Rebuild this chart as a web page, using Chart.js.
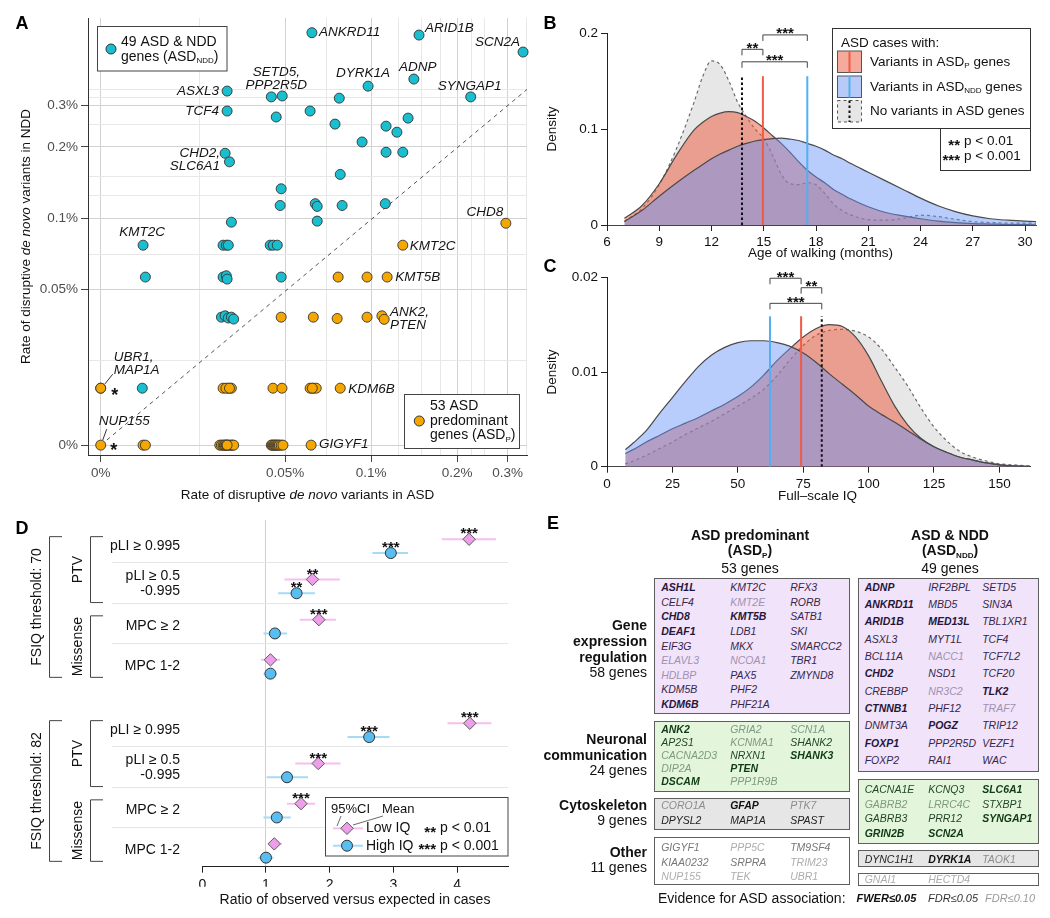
<!DOCTYPE html>
<html>
<head>
<meta charset="utf-8">
<title>ASD gene figure</title>
<script src="https://cdn.jsdelivr.net/npm/chart.js@4.4.1/dist/chart.umd.min.js"></script>
<style>
  html, body { margin: 0; padding: 0; background: #fff; }
  #page { position: relative; width: 1050px; height: 918px; overflow: hidden; font-family: "Liberation Sans", Arial, sans-serif; color: #111; }
  #page canvas { position: absolute; left: 0; top: 0; }
  .t { position: absolute; white-space: nowrap; }
  .gbox { position: absolute; box-sizing: border-box; border: 1.8px solid #5e5e5e; }
  .gene { position: absolute; white-space: nowrap; font-style: italic; font-size: 10.5px; }
  .sb { font-size: 8px; position: relative; top: 3px; }
</style>
</head>
<body>
<div id="page">
  <canvas id="chartA" width="1050" height="918"></canvas>
  <canvas id="chartB" width="1050" height="918"></canvas>
  <canvas id="chartC" width="1050" height="918"></canvas>
  <canvas id="chartD" width="1050" height="918"></canvas>
</div>
<script>
const FAM = '"Liberation Sans", Arial, Helvetica, sans-serif';
const f = (size, style) => (style ? style + ' ' : '') + size + 'px ' + FAM;
Chart.defaults.font.family = FAM;
Chart.defaults.color = '#111';

// ---- A: rate of disruptive de novo variants (%) per gene, ASD (x) vs NDD (y)
const nddGene = ['ANKRD11', 'ARID1B', 'SCN2A', 'ADNP', 'DYRK1A', 'ASXL3', 'SETD5', 'PPP2R5D', '', 'SYNGAP1',
  '', 'TCF4', '', '', '', '', '', '', 'CHD2', 'SLC6A1',
  '', '', '', '', '', '', '', '', '', '', '', 'KMT2C',
  '', '', '', '', '', '', '', '', '', '', '', '', '', '', '', '', ''];
const nddAsd = [0.062, 0.147, 0.34, 0.141, 0.0975, 0.0313, 0.0447, 0.0488, 0.0773, 0.223,
  0.0611, 0.0313, 0.0465, 0.1346, 0.0747, 0.1127, 0.123, 0.0929, 0.0308, 0.0319,
  0.1127, 0.129, 0.0779, 0.0484, 0.0324, 0.048, 0.0637, 0.0647, 0.0791, 0.112, 0.0647, 0.0159,
  0.0303, 0.0311, 0.0316, 0.0443, 0.0454, 0.0469, 0.0162, 0.0303, 0.0311, 0.0313, 0.0484,
  0.0299, 0.0308, 0.0316, 0.0324, 0.033, 0.0158];
const nddNdd = [0.61, 0.596, 0.505, 0.388, 0.362, 0.345, 0.326, 0.329, 0.322, 0.326,
  0.284, 0.284, 0.268, 0.265, 0.25, 0.245, 0.231, 0.21, 0.188, 0.173,
  0.19, 0.19, 0.153, 0.133, 0.096, 0.113, 0.115, 0.112, 0.113, 0.115, 0.097, 0.0767,
  0.0767, 0.0767, 0.0767, 0.0767, 0.0767, 0.0767, 0.0562, 0.0562, 0.0569, 0.0551, 0.0562,
  0.038, 0.0385, 0.0377, 0.038, 0.0373, 0.019];
const pGene = ['CHD8', 'KMT2C', '', '', 'KMT5B', '', '', '', '', 'ANK2', 'PTEN', 'UBR1', 'MAP1A',
  '', '', '', '', '', '', '', '', '', '', 'KDM6B', 'NUP155', '', '',
  '', '', '', '', '', '', '', '', '', '', '', '',
  '', '', '', '', '', '', '', '', '', '', '', 'GIGYF1', '', ''];
const pAsd = [0.296, 0.129, 0.0766, 0.0967, 0.1137, 0.0484, 0.0627, 0.076, 0.0967, 0.109, 0.111, 0, 0,
  0.0303, 0.0316, 0.0324, 0.031, 0.0319, 0.0453, 0.0487, 0.0611, 0.0627, 0.0642, 0.0779, 0, 0.0159, 0.0162,
  0.0295, 0.0299, 0.0303, 0.0306, 0.0308, 0.0311, 0.0313, 0.0316, 0.032, 0.0324, 0.0327, 0.033,
  0.0447, 0.045, 0.0454, 0.0458, 0.0461, 0.0465, 0.0469, 0.0473, 0.0477, 0.0484, 0.0491, 0.0616, 0.0622, 0.0313];
const pNdd = [0.095, 0.0767, 0.0562, 0.0562, 0.0562, 0.038, 0.038, 0.0375, 0.038, 0.0385, 0.0372, 0.019, 0.019,
  0.019, 0.019, 0.019, 0.019, 0.019, 0.019, 0.019, 0.019, 0.019, 0.019, 0.019, 0, 0, 0,
  0, 0, 0, 0, 0, 0, 0, 0, 0, 0, 0, 0,
  0, 0, 0, 0, 0, 0, 0, 0, 0, 0, 0, 0, 0.019, 0];
const rateTicks = [0, 0.05, 0.1, 0.2, 0.3];
const rateLabels = ['0%', '0.05%', '0.1%', '0.2%', '0.3%'];
const rateMinorX = [0.025, 0.07, 0.125, 0.15, 0.175, 0.225, 0.25, 0.35];
const rateMinorY = [0.025, 0.07, 0.125, 0.15, 0.25, 0.325, 0.35];

// ---- B: age of walking densities
const walkAge = [7, 8, 9, 10, 11, 11.5, 12, 12.5, 13, 13.5, 14, 14.5, 15, 15.5, 16, 16.5, 17, 17.5,
  18, 18.5, 19, 19.5, 20, 21, 22, 23, 24, 25, 26, 27, 28, 29, 30, 31];
const walkNone = [0.004, 0.017, 0.042, 0.080, 0.128, 0.155, 0.171, 0.167, 0.150, 0.128, 0.113, 0.100, 0.090, 0.073,
  0.053, 0.043, 0.042, 0.044, 0.042, 0.033, 0.022, 0.015, 0.0105, 0.0055, 0.005, 0.0068, 0.0102, 0.0088,
  0.006, 0.0035, 0.0025, 0.002, 0.002, 0.002];
const walkP = [0.007, 0.02, 0.043, 0.073, 0.099, 0.107, 0.113, 0.1165, 0.118, 0.117, 0.113, 0.108, 0.101, 0.093,
  0.085, 0.076, 0.066, 0.057, 0.050, 0.044, 0.037, 0.032, 0.027, 0.019, 0.013, 0.0095, 0.0065, 0.004,
  0.0025, 0.0015, 0.001, 0.0005, 0.0003, 0.0002];
const walkNdd = [0.0035, 0.015, 0.03, 0.044, 0.057, 0.063, 0.069, 0.074, 0.078, 0.082, 0.085, 0.0875, 0.089, 0.09,
  0.0905, 0.0895, 0.088, 0.085, 0.082, 0.078, 0.073, 0.069, 0.064, 0.055, 0.046, 0.037, 0.028, 0.02,
  0.014, 0.0095, 0.0065, 0.005, 0.004, 0.0035];
const walkMeanP = 14.95, walkMeanNdd = 17.5, walkMeanNone = 13.75;
const walkTicks = [6, 9, 12, 15, 18, 21, 24, 27, 30];
const walkSig = [['**', walkMeanNone, walkMeanP], ['***', walkMeanP, walkMeanNdd], ['***', walkMeanNone, walkMeanNdd]];

// ---- C: full-scale IQ densities
const iq = [7, 10, 15, 20, 25, 30, 35, 40, 45, 50, 55, 60, 65, 70, 75, 80, 85, 90, 95, 100,
  105, 110, 115, 120, 125, 130, 135, 140, 145, 150, 155, 160, 165];
const iqNdd = [0.0018, 0.0025, 0.0038, 0.0056, 0.0073, 0.009, 0.0106, 0.0118, 0.0126, 0.0131, 0.0133, 0.0133,
  0.0131, 0.0127, 0.012, 0.011, 0.0098, 0.0087, 0.0076, 0.0064, 0.0055, 0.0047, 0.0038, 0.0029, 0.0021,
  0.0015, 0.001, 0.0007, 0.0004, 0.0002, 0.0001, 0.00005, 0];
const iqP = [0.0014, 0.0018, 0.0026, 0.0033, 0.004, 0.0046, 0.0052, 0.0059, 0.0066, 0.0074, 0.0084, 0.0097,
  0.0112, 0.0125, 0.0137, 0.0146, 0.015, 0.0148, 0.0137, 0.0117, 0.009, 0.0064, 0.0044, 0.003, 0.0021,
  0.0015, 0.001, 0.0007, 0.0004, 0.0002, 0.0001, 0.00005, 0];
const iqNone = [0.0003, 0.0006, 0.0012, 0.0019, 0.0026, 0.0034, 0.0041, 0.0048, 0.0056, 0.0064, 0.0072, 0.0082,
  0.0096, 0.0113, 0.0128, 0.0139, 0.0144, 0.0145, 0.0143, 0.0137, 0.0124, 0.0105, 0.0085, 0.0062, 0.0042,
  0.0027, 0.0016, 0.001, 0.0006, 0.0003, 0.0002, 0.0001, 0];
const iqMeanP = 74.2, iqMeanNdd = 62.3, iqMeanNone = 82.1;
const iqTicks = [0, 25, 50, 75, 100, 125, 150];
const iqSig = [['***', iqMeanNdd, iqMeanP], ['**', iqMeanP, iqMeanNone], ['***', iqMeanNdd, iqMeanNone]];

// ---- D: observed / expected ratio, per FSIQ threshold (70, 82)
const dThresholds = [70, 82];
const dRowLabels = ['pLI \u2265 0.995', 'pLI \u2265 0.5\n-0.995', 'MPC \u2265 2', 'MPC 1-2'];
const lowIQ = [[4.19, 1.73, 1.83, 1.07], [4.20, 1.82, 1.55, 1.13]];
const lowLo = [[3.76, 1.29, 1.53, 0.92], [3.85, 1.46, 1.33, 1.04]];
const lowHi = [[4.61, 2.16, 2.10, 1.22], [4.54, 2.17, 1.77, 1.25]];
const highIQ = [[2.96, 1.48, 1.14, 1.07], [2.62, 1.33, 1.17, 1.00]];
const highLo = [[2.67, 1.19, 0.96, 0.96], [2.28, 1.01, 0.96, 0.88]];
const highHi = [[3.23, 1.77, 1.33, 1.17], [2.94, 1.66, 1.39, 1.12]];
const lowStars = [['***', '**', '***', ''], ['***', '***', '***', '']];
const highStars = [['***', '**', '', ''], ['***', '', '', '']];
const ratioTicks = [0, 1, 2, 3, 4];

// ---- E: genes per category (columns as printed)
const geneExprP = [['ASH1L', 'CELF4', 'CHD8', 'DEAF1', 'EIF3G', 'ELAVL3', 'HDLBP', 'KDM5B', 'KDM6B'],
  ['KMT2C', 'KMT2E', 'KMT5B', 'LDB1', 'MKX', 'NCOA1', 'PAX5', 'PHF2', 'PHF21A'],
  ['RFX3', 'RORB', 'SATB1', 'SKI', 'SMARCC2', 'TBR1', 'ZMYND8']];
const neuroP = [['ANK2', 'AP2S1', 'CACNA2D3', 'DIP2A', 'DSCAM'], ['GRIA2', 'KCNMA1', 'NRXN1', 'PTEN', 'PPP1R9B'],
  ['SCN1A', 'SHANK2', 'SHANK3']];
const cytoP = [['CORO1A', 'DPYSL2'], ['GFAP', 'MAP1A'], ['PTK7', 'SPAST']];
const otherP = [['GIGYF1', 'KIAA0232', 'NUP155'], ['PPP5C', 'SRPRA', 'TEK'], ['TM9SF4', 'TRIM23', 'UBR1']];
const geneExprNdd = [['ADNP', 'ANKRD11', 'ARID1B', 'ASXL3', 'BCL11A', 'CHD2', 'CREBBP', 'CTNNB1', 'DNMT3A', 'FOXP1', 'FOXP2'],
  ['IRF2BPL', 'MBD5', 'MED13L', 'MYT1L', 'NACC1', 'NSD1', 'NR3C2', 'PHF12', 'POGZ', 'PPP2R5D', 'RAI1'],
  ['SETD5', 'SIN3A', 'TBL1XR1', 'TCF4', 'TCF7L2', 'TCF20', 'TLK2', 'TRAF7', 'TRIP12', 'VEZF1', 'WAC']];
const neuroNdd = [['CACNA1E', 'GABRB2', 'GABRB3', 'GRIN2B'], ['KCNQ3', 'LRRC4C', 'PRR12', 'SCN2A'], ['SLC6A1', 'STXBP1', 'SYNGAP1']];
const cytoNdd = [['DYNC1H1'], ['DYRK1A'], ['TAOK1']];
const otherNdd = [['GNAI1'], ['HECTD4']];
const fwerGenes = ['ASH1L', 'CHD8', 'DEAF1', 'KDM6B', 'KMT5B', 'ANK2', 'DSCAM', 'PTEN', 'SHANK3', 'GFAP',
  'ADNP', 'ANKRD11', 'ARID1B', 'CHD2', 'CTNNB1', 'FOXP1', 'MED13L', 'POGZ', 'TLK2',
  'GRIN2B', 'SCN2A', 'SLC6A1', 'SYNGAP1', 'DYRK1A'];
const fdr10Genes = ['ELAVL3', 'HDLBP', 'KMT2E', 'NCOA1', 'CACNA2D3', 'DIP2A', 'GRIA2', 'KCNMA1', 'PPP1R9B', 'SCN1A',
  'CORO1A', 'PTK7', 'NUP155', 'PPP5C', 'TEK', 'TRIM23', 'UBR1', 'NACC1', 'NR3C2', 'TRAF7',
  'GABRB2', 'LRRC4C', 'TAOK1', 'GNAI1', 'HECTD4'];

// ---------------- drawing helpers
function drawRuns(ctx, parts, x, y, align) {
  let w = 0;
  parts.forEach(p => { ctx.font = p[1]; w += ctx.measureText(p[0]).width; });
  let cx = align === 'center' ? x - w / 2 : align === 'right' ? x - w : x;
  ctx.textAlign = 'left';
  parts.forEach(p => { ctx.font = p[1]; ctx.fillText(p[0], cx, y + (p[2] || 0)); cx += ctx.measureText(p[0]).width; });
}
function drawStars(ctx, s, x, yc, align, size) {
  ctx.save();
  ctx.font = f(size || 15, 'bold'); ctx.textAlign = align || 'center'; ctx.textBaseline = 'alphabetic';
  ctx.fillStyle = '#111';
  ctx.fillText(s, x, yc + (size || 15) * 0.57);
  ctx.restore();
}
function seg(ctx, x1, y1, x2, y2) { ctx.beginPath(); ctx.moveTo(x1, y1); ctx.lineTo(x2, y2); ctx.stroke(); }
function dot(ctx, x, y, r, fill, stroke) {
  ctx.beginPath(); ctx.arc(x, y, r, 0, Math.PI * 2); ctx.fillStyle = fill; ctx.fill();
  ctx.lineWidth = 1; ctx.strokeStyle = stroke; ctx.stroke();
}
function diamond(ctx, x, y, r, fill, stroke) {
  ctx.beginPath(); ctx.moveTo(x, y - r); ctx.lineTo(x + r, y); ctx.lineTo(x, y + r); ctx.lineTo(x - r, y); ctx.closePath();
  ctx.fillStyle = fill; ctx.fill(); ctx.lineWidth = 1; ctx.strokeStyle = stroke; ctx.stroke();
}
function letter(ctx, s, x, y) {
  ctx.save(); ctx.font = f(18, 'bold'); ctx.fillStyle = '#000'; ctx.textAlign = 'center'; ctx.textBaseline = 'middle';
  ctx.fillText(s, x, y); ctx.restore();
}
function rotRuns(ctx, parts, x, y) {
  ctx.save(); ctx.translate(x, y); ctx.rotate(-Math.PI / 2); drawRuns(ctx, parts, 0, 0, 'center'); ctx.restore();
}
const common = { responsive: false, animation: false, events: [], plugins: { legend: { display: false }, tooltip: { enabled: false } } };

// ---------------- Panel A
const CYAN = '#19BECF', ORANGE = '#F5A700';
const zeroX = 0.0113, zeroY = 0.0109;
const toPt = (x, y) => ({ x: x > 0 ? x : zeroX, y: y > 0 ? y : zeroY });
const nddPts = nddAsd.map((v, i) => toPt(v, nddNdd[i]));
const pPts = pAsd.map((v, i) => toPt(v, pNdd[i]));

function rateAxis(zero, minor, min, max, isX) {
  const major = rateTicks.map(v => (v > 0 ? v : zero));
  const all = major.concat(minor).sort((a, b) => a - b);
  const isMajor = c => c.tick && major.includes(c.tick.value);
  return {
    type: 'logarithmic', min, max,
    afterBuildTicks: s => { s.ticks = all.map(v => ({ value: v })); },
    afterFit: s => { if (isX) s.height = 30; else s.width = 88; },
    ticks: { autoSkip: false, maxRotation: 0, padding: 3, color: '#4d4d4d', font: { size: 13.5 },
      callback: v => { const i = major.indexOf(v); return i < 0 ? '' : rateLabels[i]; } },
    grid: { color: c => (isMajor(c) ? '#d2d2d2' : '#e8e8e8'), tickColor: c => (isMajor(c) ? '#444' : 'rgba(0,0,0,0)'), tickLength: 7 },
    border: { display: true, color: '#333', width: 1 }
  };
}

const nddLabelPos = {
  ANKRD11: { dx: 7, dy: 0, align: 'left' },
  ARID1B: { dx: 6, dy: -7, align: 'left' },
  SCN2A: { dx: -3, dy: -10, align: 'right' },
  ADNP: { dx: 4, dy: -12, align: 'center' },
  DYRK1A: { dx: -5, dy: -13, align: 'center' },
  SYNGAP1: { dx: -1, dy: -11, align: 'center' },
  SETD5: { dx: 5, dy: -25, align: 'center', lines: ['SETD5,', 'PPP2R5D'] },
  ASXL3: { dx: -8, dy: 0, align: 'right' },
  TCF4: { dx: -8, dy: 0, align: 'right' },
  CHD2: { dx: -5, dy: 0, align: 'right', lines: ['CHD2,', 'SLC6A1'] },
  KMT2C: { dx: -1, dy: -13, align: 'center' }
};
const pLabelPos = {
  CHD8: { dx: -21, dy: -11, align: 'center' },
  KMT2C: { dx: 7, dy: 1.5, align: 'left' },
  KMT5B: { dx: 8, dy: 0, align: 'left' },
  ANK2: { dx: 8, dy: -4, align: 'left', lines: ['ANK2,', 'PTEN'] },
  KDM6B: { dx: 8, dy: 1, align: 'left' },
  GIGYF1: { dx: 8, dy: -1, align: 'left' },
  UBR1: { dx: 13, dy: -31, align: 'left', lines: ['UBR1,', 'MAP1A'], lead: [4, -4, 12, -14], star: [14, 3] },
  NUP155: { dx: -2, dy: -24, align: 'left', lead: [2, -5, 6, -16], star: [13, 1] }
};

const decorA = {
  id: 'decorA',
  afterDraw(chart) {
    const { ctx, scales: { x, y } } = chart;
    ctx.save();
    ctx.textBaseline = 'middle';
    const place = (genes, pts, pos) => genes.forEach((g, i) => {
      const p = pos[g];
      if (!p) return;
      const px = x.getPixelForValue(pts[i].x), py = y.getPixelForValue(pts[i].y);
      ctx.fillStyle = '#151515'; ctx.font = f(13.5, 'italic'); ctx.textAlign = p.align;
      (p.lines || [g]).forEach((ln, li) => ctx.fillText(ln, px + p.dx, py + p.dy + li * 13));
      if (p.lead) { ctx.strokeStyle = '#333'; ctx.lineWidth = 1; seg(ctx, px + p.lead[0], py + p.lead[1], px + p.lead[2], py + p.lead[3]); }
      if (p.star) drawStars(ctx, '*', px + p.star[0], py + p.star[1], 'center', 18);
    });
    place(nddGene, nddPts, nddLabelPos);
    place(pGene, pPts, pLabelPos);

    // legends
    ctx.fillStyle = '#fff'; ctx.strokeStyle = '#444'; ctx.lineWidth = 1;
    ctx.fillRect(97.5, 26.5, 129.5, 44.5); ctx.strokeRect(97.5, 26.5, 129.5, 44.5);
    ctx.fillRect(404.5, 394.5, 115, 54); ctx.strokeRect(404.5, 394.5, 115, 54);
    dot(ctx, 111, 49, 5, CYAN, '#333');
    dot(ctx, 419.3, 421, 5, ORANGE, '#333');
    ctx.fillStyle = '#111';
    drawRuns(ctx, [['49 ASD & NDD', f(14)]], 121, 41.7, 'left');
    drawRuns(ctx, [['genes (ASD', f(14)], ['NDD', f(8), 4], [')', f(14)]], 121, 57, 'left');
    drawRuns(ctx, [['53 ASD', f(14)]], 430, 406.5, 'left');
    drawRuns(ctx, [['predominant', f(14)]], 430, 421, 'left');
    drawRuns(ctx, [['genes (ASD', f(14)], ['P', f(8), 4], [')', f(14)]], 430, 435.5, 'left');

    // axis titles
    const ca = chart.chartArea;
    drawRuns(ctx, [['Rate of disruptive ', f(13.5)], ['de novo', f(13.5, 'italic')], [' variants in ASD', f(13.5)]],
      (ca.left + ca.right) / 2, 495, 'center');
    rotRuns(ctx, [['Rate of disruptive ', f(13.5)], ['de novo', f(13.5, 'italic')], [' variants in NDD', f(13.5)]],
      26, (ca.top + ca.bottom) / 2);
    ctx.restore();
    letter(ctx, 'A', 22, 24);
  }
};

new Chart(document.getElementById('chartA'), {
  type: 'scatter',
  data: {
    datasets: [
      { type: 'line', data: [{ x: zeroX, y: zeroY }, { x: 0.4, y: 0.4 }], borderColor: '#555', borderWidth: 1,
        borderDash: [4, 4], pointRadius: 0, order: 3 },
      { data: pPts, backgroundColor: ORANGE, borderColor: '#333', borderWidth: 0.9, pointRadius: 5, clip: 8, order: 2 },
      { data: nddPts, backgroundColor: CYAN, borderColor: '#333', borderWidth: 0.9, pointRadius: 5, clip: 8, order: 1 }
    ]
  },
  options: Object.assign({}, common, {
    layout: { padding: { left: 0, top: 18, right: 523, bottom: 433 } },
    scales: {
      x: rateAxis(zeroX, rateMinorX, 0.0102, 0.351, true),
      y: rateAxis(zeroY, rateMinorY, 0.0099, 0.704, false)
    }
  }),
  plugins: [decorA]
});

// ---------------- Panels B and C (densities)
const FILL_NDD = 'rgba(100,145,250,0.45)', FILL_P = 'rgba(235,85,55,0.5)', FILL_NONE = 'rgba(175,175,175,0.3)';
const LINE_P = '#EF5B45', LINE_NDD = '#52AFF2';

function densityChart(id, o) {
  const pts = ys => o.x.map((x, i) => ({ x, y: ys[i] }));
  const vline = m => [{ x: m, y: 0 }, { x: m, y: o.lineTop }];
  const curve = { fill: 'origin', borderWidth: 1.2, pointRadius: 0, cubicInterpolationMode: 'monotone' };
  const decor = {
    id: 'decor' + id,
    afterDraw(chart) {
      const { ctx, scales: { x, y } } = chart;
      const ca = chart.chartArea;
      ctx.save();
      ctx.strokeStyle = '#444'; ctx.lineWidth = 1;
      o.sig.forEach((s, i) => {
        const x1 = x.getPixelForValue(s[1]), x2 = x.getPixelForValue(s[2]), py = y.getPixelForValue(o.sigY[i]);
        ctx.beginPath(); ctx.moveTo(x1, py + 6); ctx.lineTo(x1, py); ctx.lineTo(x2, py); ctx.lineTo(x2, py + 6); ctx.stroke();
        drawStars(ctx, s[0], (x1 + x2) / 2, py - 5, 'center');
      });
      ctx.fillStyle = '#111'; ctx.textBaseline = 'middle';
      drawRuns(ctx, [[o.xTitle, f(13.5)]], (ca.left + ca.right) / 2 - 1, o.xTitleY, 'center');
      rotRuns(ctx, [['Density', f(13.5)]], 552, (ca.top + ca.bottom) / 2);
      if (o.legend) o.legend(ctx);
      ctx.restore();
      letter(ctx, o.letter, 550, o.letterY);
    }
  };
  return new Chart(document.getElementById(id), {
    type: 'line',
    data: {
      datasets: [
        { data: vline(o.meanNone), borderColor: '#111', borderWidth: 2, borderDash: [2.5, 2.5], pointRadius: 0, order: 0 },
        { data: vline(o.meanP), borderColor: LINE_P, borderWidth: 2, pointRadius: 0, order: 0 },
        { data: vline(o.meanNdd), borderColor: LINE_NDD, borderWidth: 2, pointRadius: 0, order: 0 },
        Object.assign({ data: pts(o.ndd), backgroundColor: FILL_NDD, borderColor: '#4a4a4a', order: 1 }, curve),
        Object.assign({ data: pts(o.p), backgroundColor: FILL_P, borderColor: '#4a4a4a', order: 2 }, curve),
        Object.assign({ data: pts(o.none), backgroundColor: FILL_NONE, borderColor: '#6a6a6a', borderDash: [3, 3], order: 3 }, curve)
      ]
    },
    options: Object.assign({}, common, {
      layout: { padding: o.pad },
      scales: {
        x: { type: 'linear', min: o.xMin, max: o.xMax,
          afterBuildTicks: s => { s.ticks = o.xTicks.map(v => ({ value: v })); },
          afterFit: s => { s.height = 30; },
          ticks: { autoSkip: false, maxRotation: 0, padding: 3, font: { size: 13.5 }, color: '#111' },
          grid: { drawOnChartArea: false, tickLength: 6, tickColor: '#222' },
          border: { color: '#444' } },
        y: { type: 'linear', min: 0, max: o.yMax,
          afterBuildTicks: s => { s.ticks = o.yTicks.map(v => ({ value: v })); },
          afterFit: s => { s.width = 47; },
          ticks: { padding: 3, font: { size: 13.5 }, color: '#111', callback: v => (v === 0 ? '0' : String(v)) },
          grid: { drawOnChartArea: false, tickLength: 6, tickColor: '#222' },
          border: { color: '#222' } }
      }
    }),
    plugins: [decor]
  });
}

function legendB(ctx) {
  ctx.fillStyle = '#fff'; ctx.strokeStyle = '#333'; ctx.lineWidth = 1;
  ctx.fillRect(832.5, 28.5, 198, 100); ctx.strokeRect(832.5, 28.5, 198, 100);
  ctx.fillRect(940.5, 128.5, 90, 42); ctx.strokeRect(940.5, 128.5, 90, 42);
  const sw = [[51, '#F5AA9B', LINE_P, false], [76, '#B8CBF8', LINE_NDD, false], [100.5, '#E6E6E6', '#111', true]];
  sw.forEach(s => {
    ctx.fillStyle = s[1]; ctx.fillRect(837.5, s[0], 24, 21.5);
    ctx.strokeStyle = '#555'; ctx.lineWidth = 1; ctx.setLineDash(s[3] ? [3, 3] : []);
    ctx.strokeRect(837.5, s[0], 24, 21.5);
    ctx.strokeStyle = s[2]; ctx.lineWidth = 2; ctx.setLineDash(s[3] ? [2.5, 2.5] : []);
    seg(ctx, 849.5, s[0], 849.5, s[0] + 21.5);
  });
  ctx.setLineDash([]);
  ctx.fillStyle = '#111';
  drawRuns(ctx, [['ASD cases with:', f(13.5)]], 841, 43, 'left');
  drawRuns(ctx, [['Variants in ASD', f(13.5)], ['P', f(8), 4], [' genes', f(13.5)]], 870, 62, 'left');
  drawRuns(ctx, [['Variants in ASD', f(13.5)], ['NDD', f(8), 4], [' genes', f(13.5)]], 870, 87, 'left');
  drawRuns(ctx, [['No variants in ASD genes', f(13.5)]], 870, 111, 'left');
  drawStars(ctx, '**', 960, 141.7, 'right');
  drawStars(ctx, '***', 960, 156.7, 'right');
  drawRuns(ctx, [['p < 0.01', f(13.5)]], 964, 141.7, 'left');
  drawRuns(ctx, [['p < 0.001', f(13.5)]], 964, 156.7, 'left');
}

densityChart('chartB', {
  x: walkAge, p: walkP, ndd: walkNdd, none: walkNone,
  meanP: walkMeanP, meanNdd: walkMeanNdd, meanNone: walkMeanNone, lineTop: 0.155,
  sig: walkSig, sigY: [0.183, 0.198, 0.170],
  xMin: 6, xMax: 30.63, xTicks: walkTicks, yMax: 0.2, yTicks: [0, 0.1, 0.2],
  pad: { left: 560, top: 33, right: 14, bottom: 663 },
  xTitle: 'Age of walking (months)', xTitleY: 253, letter: 'B', letterY: 24, legend: legendB
});

densityChart('chartC', {
  x: iq, p: iqP, ndd: iqNdd, none: iqNone,
  meanP: iqMeanP, meanNdd: iqMeanNdd, meanNone: iqMeanNone, lineTop: 0.0159,
  sig: iqSig, sigY: [0.0199, 0.0189, 0.01725],
  xMin: 0, xMax: 161.7, xTicks: iqTicks, yMax: 0.02, yTicks: [0, 0.01, 0.02],
  pad: { left: 560, top: 277.3, right: 20, bottom: 421.3 },
  xTitle: 'Full\u2013scale IQ', xTitleY: 496, letter: 'C', letterY: 267
});

// ---------------- Panel D
const dBlocks = [0, 4.577];
const dLowOff = -0.165, dHighOff = 0.178;
const LOW_FILL = '#EE9FEC', HIGH_FILL = '#58BDF0', LOW_CI = '#F6BEF2', HIGH_CI = '#A6DBF6';
const ciPts = (lo, hi, off) => {
  const out = [];
  dBlocks.forEach((b, bi) => lo[bi].forEach((v, r) => {
    const yy = b + r + off;
    out.push({ x: v, y: yy }, { x: hi[bi][r], y: yy }, { x: hi[bi][r], y: null });
  }));
  return out;
};
const markPts = (vals, off) => {
  const out = [];
  dBlocks.forEach((b, bi) => vals[bi].forEach((v, r) => out.push({ x: v, y: b + r + off })));
  return out;
};

const decorD = {
  id: 'decorD',
  beforeDatasetsDraw(chart) {
    const { ctx, scales: { y } } = chart;
    ctx.save(); ctx.strokeStyle = '#e6e6e6'; ctx.lineWidth = 1;
    dBlocks.forEach(b => [0.4, 1.42, 2.42].forEach(s => {
      const py = Math.round(y.getPixelForValue(b + s)) + 0.5;
      seg(ctx, 112, py, chart.chartArea.right, py);
    }));
    ctx.restore();
  },
  afterDraw(chart) {
    const { ctx, scales: { x, y } } = chart;
    ctx.save();
    ctx.textBaseline = 'middle'; ctx.fillStyle = '#111'; ctx.strokeStyle = '#444'; ctx.lineWidth = 1;
    dBlocks.forEach((b, bi) => {
      ctx.font = f(14); ctx.textAlign = 'right';
      dRowLabels.forEach((lab, r) => {
        const py = y.getPixelForValue(b + r);
        const lines = lab.split('\n');
        lines.forEach((ln, li) => ctx.fillText(ln, 180, py + (lines.length > 1 ? li * 14.5 - 9.8 : 0)));
      });
      const brk = (t0, t1, xl, xt, label) => {
        const y0 = y.getPixelForValue(b + t0), y1 = y.getPixelForValue(b + t1);
        ctx.beginPath(); ctx.moveTo(xt, y0); ctx.lineTo(xl, y0); ctx.lineTo(xl, y1); ctx.lineTo(xt, y1); ctx.stroke();
        rotRuns(ctx, [[label, f(14)]], xl - 12, (y0 + y1) / 2);
      };
      ctx.fillStyle = '#111';
      brk(-0.23, 1.41, 90.5, 103, 'PTV');
      brk(1.74, 3.27, 90.5, 103, 'Missense');
      brk(-0.23, 3.27, 49.5, 62, 'FSIQ threshold: ' + dThresholds[bi]);
      lowIQ[bi].forEach((v, r) => { if (lowStars[bi][r]) drawStars(ctx, lowStars[bi][r], x.getPixelForValue(v), y.getPixelForValue(b + r + dLowOff) - 9.5); });
      highIQ[bi].forEach((v, r) => { if (highStars[bi][r]) drawStars(ctx, highStars[bi][r], x.getPixelForValue(v), y.getPixelForValue(b + r + dHighOff) - 10); });
    });
    // legend
    ctx.fillStyle = '#fff'; ctx.fillRect(325.5, 797.5, 182.5, 58.5);
    ctx.strokeStyle = '#444'; ctx.strokeRect(325.5, 797.5, 182.5, 58.5);
    ctx.fillStyle = '#111';
    drawRuns(ctx, [['95%CI', f(13)]], 331, 809.3, 'left');
    drawRuns(ctx, [['Mean', f(13)]], 382, 809.3, 'left');
    ctx.strokeStyle = '#444'; ctx.lineWidth = 0.8;
    seg(ctx, 341, 816, 337, 826);
    seg(ctx, 383, 816, 353, 825);
    ctx.lineWidth = 2;
    ctx.strokeStyle = LOW_CI; seg(ctx, 333, 828.3, 363, 828.3);
    ctx.strokeStyle = HIGH_CI; seg(ctx, 333, 845.7, 363, 845.7);
    diamond(ctx, 347, 828.3, 6.2, LOW_FILL, '#5a5a5a');
    dot(ctx, 347, 845.7, 5.5, HIGH_FILL, '#333');
    ctx.fillStyle = '#111';
    drawRuns(ctx, [['Low IQ', f(14)]], 366, 828.3, 'left');
    drawRuns(ctx, [['High IQ', f(14)]], 366, 845.7, 'left');
    drawStars(ctx, '**', 436, 828.3, 'right');
    drawStars(ctx, '***', 436, 845.7, 'right');
    drawRuns(ctx, [['p < 0.01', f(14)]], 440, 828.3, 'left');
    drawRuns(ctx, [['p < 0.001', f(14)]], 440, 845.7, 'left');
    drawRuns(ctx, [['Ratio of observed versus expected in cases', f(14)]], 355, 900, 'center');
    ctx.restore();
    letter(ctx, 'D', 22, 529);
  }
};

new Chart(document.getElementById('chartD'), {
  type: 'scatter',
  data: {
    datasets: [
      { type: 'line', data: ciPts(lowLo, lowHi, dLowOff), borderColor: LOW_CI, borderWidth: 2, pointRadius: 0, spanGaps: false, order: 3 },
      { type: 'line', data: ciPts(highLo, highHi, dHighOff), borderColor: HIGH_CI, borderWidth: 2, pointRadius: 0, spanGaps: false, order: 3 },
      { data: markPts(lowIQ, dLowOff), pointStyle: 'rectRot', pointRadius: 6.2, backgroundColor: LOW_FILL, borderColor: '#5a5a5a', borderWidth: 1, order: 1 },
      { data: markPts(highIQ, dHighOff), pointStyle: 'circle', pointRadius: 5.5, backgroundColor: HIGH_FILL, borderColor: '#333', borderWidth: 1, order: 1 }
    ]
  },
  options: Object.assign({}, common, {
    layout: { padding: { left: 202.3, right: 542, top: 520, bottom: 31.3 } },
    scales: {
      x: { type: 'linear', min: 0, max: 4.8,
        afterBuildTicks: s => { s.ticks = ratioTicks.map(v => ({ value: v })); },
        afterFit: s => { s.height = 20; },
        ticks: { autoSkip: false, maxRotation: 0, padding: 4, font: { size: 14 }, color: '#111' },
        grid: { color: c => (c.tick && c.tick.value === 1 ? '#cfcfcf' : 'rgba(0,0,0,0)'), tickColor: '#222', tickLength: 6 },
        border: { color: '#222' } },
      y: { type: 'linear', display: false, reverse: true, min: -0.644, max: 7.98 }
    }
  }),
  plugins: [decorD]
});

// ---------------- Panel E (gene table)
const page = document.getElementById('page');
function addText(x, y, html, css, anchor) {
  const d = document.createElement('div');
  d.className = 't';
  d.innerHTML = html;
  const tx = anchor === 'center' ? '-50%' : anchor === 'right' ? '-100%' : '0';
  d.style.cssText = `left:${x}px;top:${y}px;transform:translate(${tx},-50%);` + (css || '');
  page.appendChild(d);
  return d;
}
const eTone = {
  purple: { bg: '#F1E3FA', b: '#26163A', n: '#35264A', l: '#9F92B0' },
  green: { bg: '#E3F6DB', b: '#0F3A14', n: '#22452A', l: '#7E9A80' },
  gray: { bg: '#E6E6E6', b: '#111111', n: '#222222', l: '#8C8C8C' },
  other: { bg: '#FFFFFF', b: '#666666', n: '#777777', l: '#ADADAD' }
};
const eBoxes = [
  { genes: geneExprP, left: 654, top: 578, w: 196, h: 136, tone: 'purple', cols: [662, 731, 791], r0: 588.3, lh: 14.6 },
  { genes: neuroP, left: 654, top: 721, w: 196, h: 71, tone: 'green', cols: [662, 731, 791], r0: 730.7, lh: 13 },
  { genes: cytoP, left: 654, top: 798, w: 196, h: 32, tone: 'gray', cols: [662, 731, 791], r0: 806.7, lh: 15 },
  { genes: otherP, left: 654, top: 837, w: 196, h: 48, tone: 'other', cols: [662, 731, 791], r0: 848.3, lh: 14.2 },
  { genes: geneExprNdd, left: 858, top: 578, w: 181, h: 194, tone: 'purple', cols: [865.5, 929, 983], r0: 588.3, lh: 17.3 },
  { genes: neuroNdd, left: 858, top: 779, w: 181, h: 65, tone: 'green', cols: [865.5, 929, 983], r0: 790, lh: 14.7 },
  { genes: cytoNdd, left: 858, top: 850, w: 181, h: 17, tone: 'gray', cols: [865.5, 929, 983], r0: 859.3, lh: 14 },
  { genes: otherNdd, left: 858, top: 873, w: 181, h: 12.5, tone: 'other', cols: [865.5, 929, 983], r0: 880, lh: 14 }
];
eBoxes.forEach(b => {
  const t = eTone[b.tone];
  const box = document.createElement('div');
  box.className = 'gbox';
  box.style.cssText = `left:${b.left}px;top:${b.top}px;width:${b.w}px;height:${b.h}px;background:${t.bg};`;
  page.appendChild(box);
  b.genes.forEach((col, ci) => col.forEach((g, ri) => {
    const fw = fwerGenes.includes(g), light = fdr10Genes.includes(g);
    const s = document.createElement('div');
    s.className = 'gene';
    s.textContent = g;
    s.style.cssText = `left:${b.cols[ci] - b.left - 1.8}px;top:${b.r0 - b.top - 1.8 - b.lh / 2 + ri * b.lh}px;` +
      `height:${b.lh}px;line-height:${b.lh}px;font-weight:${fw ? 'bold' : 'normal'};color:${fw ? t.b : light ? t.l : t.n};`;
    box.appendChild(s);
  }));
});
const headCss = 'font-size:14px;font-weight:bold;text-align:center;line-height:15.8px;';
addText(750, 552.5, 'ASD predominant<br>(ASD<span class="sb">P</span>)<br><span style="font-weight:normal">53 genes</span>', headCss, 'center');
addText(950, 552.5, 'ASD &amp; NDD<br>(ASD<span class="sb">NDD</span>)<br><span style="font-weight:normal">49 genes</span>', headCss, 'center');
const rowCss = 'font-size:14px;font-weight:bold;text-align:right;line-height:15.6px;';
const nm = s => `<span style="font-weight:normal">${s}</span>`;
addText(647, 649.4, 'Gene<br>expression<br>regulation<br>' + nm('58 genes'), rowCss, 'right');
addText(647, 755.3, 'Neuronal<br>communication<br>' + nm('24 genes'), rowCss, 'right');
addText(647, 813.8, 'Cytoskeleton<br>' + nm('9 genes'), rowCss, 'right');
addText(647, 860.5, 'Other<br>' + nm('11 genes'), rowCss, 'right');
addText(658, 898.3, 'Evidence for ASD association:', 'font-size:14px;', 'left');
addText(856.5, 898.3, 'FWER\u22640.05', 'font-size:11px;font-style:italic;font-weight:bold;color:#111;', 'left');
addText(928, 898.3, 'FDR\u22640.05', 'font-size:11px;font-style:italic;color:#333;', 'left');
addText(985, 898.3, 'FDR\u22640.10', 'font-size:11px;font-style:italic;color:#9a9a9a;', 'left');
addText(553, 523, 'E', 'font-size:18px;font-weight:bold;color:#000;', 'center');
</script>
</body>
</html>
